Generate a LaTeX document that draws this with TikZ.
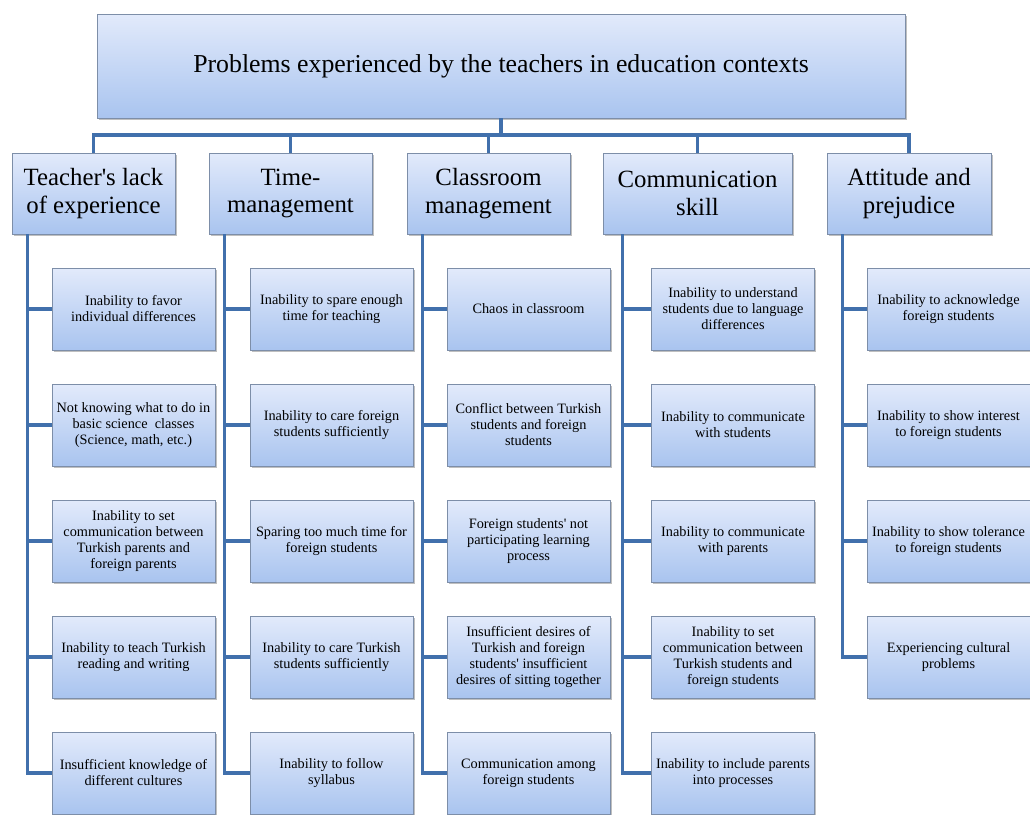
\documentclass[tikz,border=0pt]{standalone}
\usepackage{fontspec}
\setmainfont{Liberation Serif}
\usetikzlibrary{shadows}
\definecolor{boxtop}{HTML}{E2EAFB}
\definecolor{boxbot}{HTML}{A9C4EF}
\definecolor{boxline}{HTML}{7D8EA8}
\definecolor{conncol}{HTML}{4170AC}
\newcommand{\apos}{\textquotesingle}
\tikzset{
  basebox/.style={draw=boxline, line width=0.8pt, top color=boxtop, bottom color=boxbot,
    align=center, inner sep=0pt,
    drop shadow={opacity=0.45, shadow xshift=1.5pt, shadow yshift=-2pt, fill=black!55}},
  mainbox/.style={basebox, minimum width=808pt, minimum height=104pt, font=\fontsize{25.8}{30}\selectfont},
  catbox/.style={basebox, minimum height=81pt, font=\fontsize{24.8}{27.5}\selectfont},
  leafbox/.style={basebox, minimum width=163pt, minimum height=82pt, font=\fontsize{14.3}{16}\selectfont},
  conn/.style={draw=conncol, line width=3.6pt},
}
\begin{document}
\begin{tikzpicture}[x=1pt,y=1pt]
\useasboundingbox (0,0) rectangle (1030,-814);
\fill[white] (0,0) rectangle (1030,-814);

\node[mainbox] (top) at (501,-66) {Problems experienced by the teachers in education contexts};

\node[catbox, minimum width=163pt] (c1) at (93.5,-193.5) {Teacher\apos s lack\\of experience};
\node[catbox, minimum width=163pt] (c2) at (290.5,-193.5) {Time-\\management};
\node[catbox, minimum width=163pt] (c3) at (488.5,-193.5) {Classroom\\management};
\node[catbox, minimum width=189pt] (c4) at (697.5,-193.5) {Communication\\skill};
\node[catbox, minimum width=164pt] (c5) at (909,-193.5) {Attitude and\\prejudice};

\coordinate (bus) at (0,-135);

% column 1
\node[leafbox] (a1) at (133.5,-309) {Inability to favor\\individual differences};
\node[leafbox] (a2) at (133.5,-425) {Not knowing what to do in\\basic science~ classes\\(Science, math, etc.)};
\node[leafbox] (a3) at (133.5,-541) {Inability to set\\communication between\\Turkish parents and\\foreign parents};
\node[leafbox] (a4) at (133.5,-657) {Inability to teach Turkish\\reading and writing};
\node[leafbox] (a5) at (133.5,-773) {Insufficient knowledge of\\different cultures};
% column 2
\node[leafbox] (b1) at (331.5,-309) {Inability to spare enough\\time for teaching};
\node[leafbox] (b2) at (331.5,-425) {Inability to care foreign\\students sufficiently};
\node[leafbox] (b3) at (331.5,-541) {Sparing too much time for\\foreign students};
\node[leafbox] (b4) at (331.5,-657) {Inability to care Turkish\\students sufficiently};
\node[leafbox] (b5) at (331.5,-773) {Inability to follow\\syllabus};
% column 3
\node[leafbox] (d1) at (528.5,-309) {Chaos in classroom};
\node[leafbox] (d2) at (528.5,-425) {Conflict between Turkish\\students and foreign\\students};
\node[leafbox] (d3) at (528.5,-541) {Foreign students\apos\ not\\participating learning\\process};
\node[leafbox] (d4) at (528.5,-657) {Insufficient desires of\\Turkish and foreign\\students\apos\ insufficient\\desires of sitting together};
\node[leafbox] (d5) at (528.5,-773) {Communication among\\foreign students};
% column 4
\node[leafbox] (e1) at (733,-309) {Inability to understand\\students due to language\\differences};
\node[leafbox] (e2) at (733,-425) {Inability to communicate\\with students};
\node[leafbox] (e3) at (733,-541) {Inability to communicate\\with parents};
\node[leafbox] (e4) at (733,-657) {Inability to set\\communication between\\Turkish students and\\foreign students};
\node[leafbox] (e5) at (733,-773) {Inability to include parents\\into processes};
% column 5
\node[leafbox] (f1) at (948.5,-309) {Inability to acknowledge\\foreign students};
\node[leafbox] (f2) at (948.5,-425) {Inability to show interest\\to foreign students};
\node[leafbox] (f3) at (948.5,-541) {Inability to show tolerance\\to foreign students};
\node[leafbox] (f4) at (948.5,-657) {Experiencing cultural\\problems};

% top connectors
\draw[conn] (top.south) -- (top.south |- bus);
\foreach \c in {c1,c2,c3,c4,c5}{
  \draw[conn] (top.south |- bus) -| (\c.north);
}
\draw[conn] (c1.north |- bus) -- (c5.north |- bus);

% trunk connectors
\foreach \l in {a1,a2,a3,a4,a5}{ \draw[conn] ([xshift=16pt]c1.south west) |- (\l.west); }
\foreach \l in {b1,b2,b3,b4,b5}{ \draw[conn] ([xshift=16pt]c2.south west) |- (\l.west); }
\foreach \l in {d1,d2,d3,d4,d5}{ \draw[conn] ([xshift=16pt]c3.south west) |- (\l.west); }
\foreach \l in {e1,e2,e3,e4,e5}{ \draw[conn] ([xshift=20pt]c4.south west) |- (\l.west); }
\foreach \l in {f1,f2,f3,f4}{ \draw[conn] ([xshift=16pt]c5.south west) |- (\l.west); }
\end{tikzpicture}
\end{document}
